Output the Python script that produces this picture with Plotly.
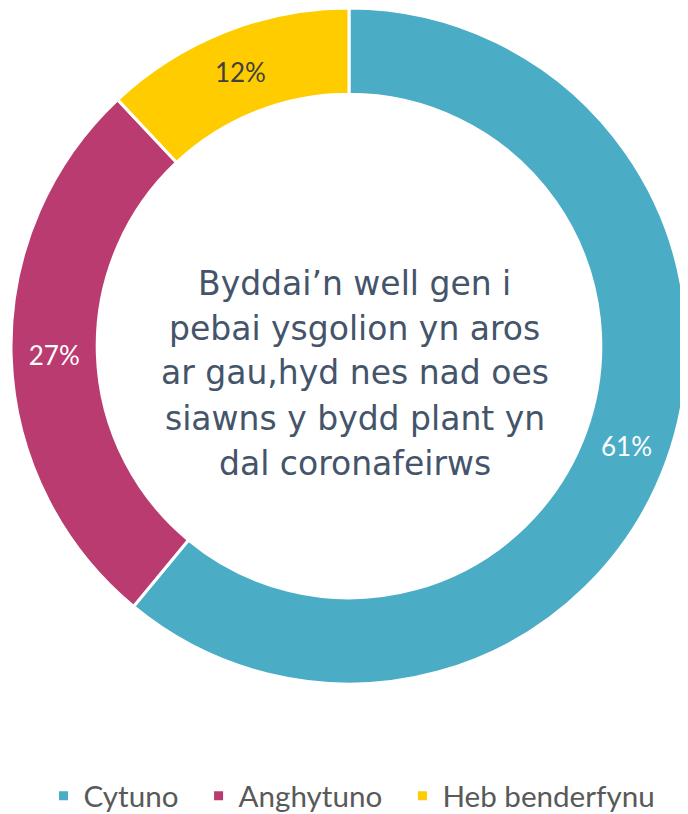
import plotly.graph_objects as go

labels = ["Cytuno", "Anghytuno", "Heb benderfynu"]
values = [61, 27, 12]
colors = ["#4BACC6", "#BA3B6F", "#FFCC00"]
text_colors = ["#FFFFFF", "#FFFFFF", "#404040"]
center_lines = ["Byddai’n well gen i", "pebai ysgolion yn aros", "ar gau,hyd nes nad oes",
                "siawns y bydd plant yn", "dal coronafeirws"]

pad = "\u00a0\u00a0"
legend_labels = [labels[0] + pad, labels[1] + pad, labels[2]]

fig = go.Figure(go.Pie(
    labels=legend_labels,
    values=values,
    hole=0.745,
    sort=False,
    direction="clockwise",
    rotation=0,
    marker=dict(colors=colors, line=dict(color="white", width=3)),
    textinfo="percent",
    textposition="inside",
    insidetextorientation="horizontal",
    textfont=dict(family="Lato", size=26, color=text_colors),
    domain=dict(x=[0.00436, 0.98692], y=[0.1695, 1.0]),
    hoverinfo="label+percent",
))

H = 814
for i, line in enumerate(center_lines):
    ypix = 365 + (i - 2) * 45
    fig.add_annotation(
        text=line, x=0.504, y=(H - ypix) / H, xref="paper", yref="paper",
        showarrow=False, align="center", yanchor="middle",
        font=dict(family="DejaVu Sans", size=33, color="#44546A"),
    )

fig.update_layout(
    width=688, height=H,
    margin=dict(l=0, r=0, t=0, b=0, autoexpand=False),
    paper_bgcolor="white",
    plot_bgcolor="white",
    showlegend=True,
    legend=dict(orientation="h", x=0.5, xanchor="center", y=0.0, yanchor="bottom",
                font=dict(family="Lato", size=29.6, color="#595959"),
                itemwidth=30),
)

fig.write_html("out.html")
